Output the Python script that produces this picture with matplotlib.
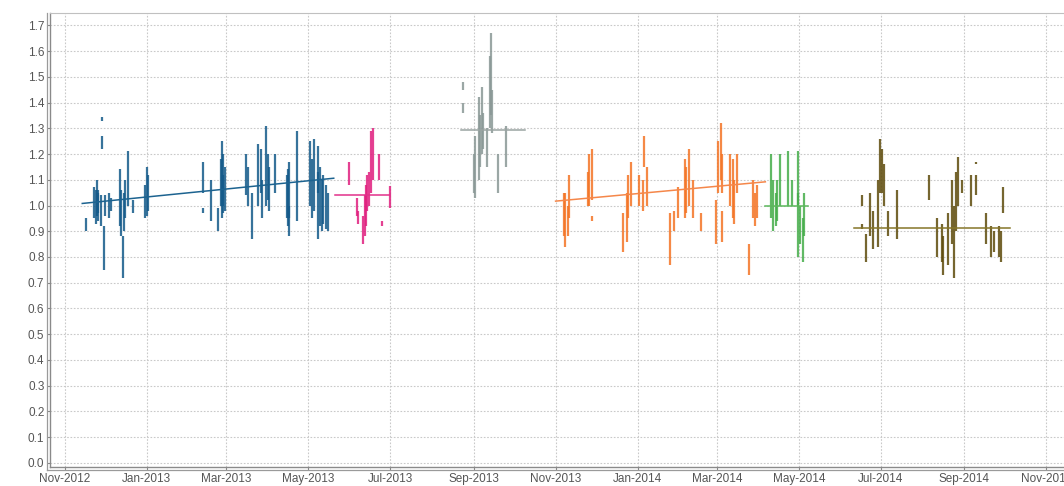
import matplotlib
matplotlib.use("Agg")
import matplotlib.pyplot as plt
import matplotlib.dates as mdates
import matplotlib.transforms as mtrans
from matplotlib.lines import Line2D
import pandas as pd

# ---- daily value ranges, one list per period ----
blue_dates = ["2012-11-17", "2012-11-23", "2012-11-24", "2012-11-25", "2012-11-26", "2012-11-26",
              "2012-11-28", "2012-11-29", "2012-11-29", "2012-11-30", "2012-12-01", "2012-12-04",
              "2012-12-05", "2012-12-12", "2012-12-13", "2012-12-14", "2012-12-15", "2012-12-16",
              "2012-12-18", "2012-12-22", "2012-12-31", "2013-01-01", "2013-01-02", "2013-02-12",
              "2013-02-12", "2013-02-18", "2013-02-23", "2013-02-25", "2013-02-26", "2013-02-27",
              "2013-02-27", "2013-02-28", "2013-03-16", "2013-03-17", "2013-03-20", "2013-03-25",
              "2013-03-27", "2013-03-28", "2013-03-31", "2013-04-01", "2013-04-02", "2013-04-06",
              "2013-04-15", "2013-04-16", "2013-04-17", "2013-04-17", "2013-04-23", "2013-05-02",
              "2013-05-04", "2013-05-05", "2013-05-08", "2013-05-08", "2013-05-10", "2013-05-11",
              "2013-05-12", "2013-05-14", "2013-05-16"]
blue_low = [0.90, 0.95, 0.93, 0.96, 0.97, 0.94, 0.92, 1.33, 1.22, 0.75, 0.96, 0.95,
            0.98, 0.92, 0.88, 0.72, 0.90, 0.95, 1.00, 0.97, 0.95, 0.96, 0.98, 1.05,
            0.97, 0.94, 0.90, 1.00, 0.95, 0.97, 1.00, 0.98, 1.04, 1.00, 0.87, 1.00,
            1.05, 0.95, 1.00, 1.02, 0.98, 1.05, 0.95, 0.92, 0.95, 0.88, 0.94, 1.00,
            0.95, 0.98, 0.87, 1.05, 0.92, 0.90, 0.93, 0.91, 0.90]
blue_high = [0.95, 1.07, 1.06, 1.10, 1.06, 1.05, 1.04, 1.345, 1.27, 0.92, 1.04, 1.05,
             1.03, 1.14, 1.06, 0.88, 1.05, 1.10, 1.21, 1.02, 1.08, 1.15, 1.12, 1.17,
             0.99, 1.10, 0.99, 1.18, 1.25, 1.20, 1.12, 1.15, 1.20, 1.15, 1.05, 1.24,
             1.22, 1.10, 1.31, 1.20, 1.15, 1.20, 1.12, 1.14, 1.17, 1.00, 1.29, 1.25,
             1.18, 1.26, 1.13, 1.23, 1.15, 1.10, 1.12, 1.08, 1.05]
blue_trend_dates = ["2012-11-14", "2013-05-20"]
blue_trend = [1.008, 1.106]

pink_dates = ["2013-05-31", "2013-06-06", "2013-06-07", "2013-06-11", "2013-06-12", "2013-06-13",
              "2013-06-14", "2013-06-15", "2013-06-17", "2013-06-18", "2013-06-23", "2013-06-25",
              "2013-07-01"]
pink_low = [1.08, 0.96, 0.93, 0.85, 0.88, 0.92, 0.98, 1.00, 1.05, 1.10, 1.10, 0.92, 0.99]
pink_high = [1.17, 1.03, 0.98, 0.96, 1.04, 1.08, 1.12, 1.13, 1.29, 1.30, 1.20, 0.94, 1.075]
pink_trend_dates = ["2013-05-21", "2013-07-01"]
pink_trend = [1.04, 1.04]

gray_dates = ["2013-08-24", "2013-08-24", "2013-09-01", "2013-09-02", "2013-09-05", "2013-09-06",
              "2013-09-07", "2013-09-08", "2013-09-11", "2013-09-13", "2013-09-14", "2013-09-15",
              "2013-09-19", "2013-09-25"]
gray_low = [1.45, 1.36, 1.05, 1.03, 1.10, 1.15, 1.20, 1.22, 1.15, 1.30, 1.35, 1.28, 1.05, 1.15]
gray_high = [1.48, 1.40, 1.20, 1.27, 1.42, 1.35, 1.46, 1.36, 1.30, 1.58, 1.67, 1.45, 1.20, 1.31]
gray_trend_dates = ["2013-08-23", "2013-10-09"]
gray_trend = [1.295, 1.295]

orange_dates = ["2013-11-07", "2013-11-08", "2013-11-10", "2013-11-11", "2013-11-25", "2013-11-26",
                "2013-11-28", "2013-11-28", "2013-12-21", "2013-12-24", "2013-12-25", "2013-12-27",
                "2014-01-02", "2014-01-05", "2014-01-06", "2014-01-08", "2014-01-25", "2014-01-28",
                "2014-01-31", "2014-02-05", "2014-02-06", "2014-02-08", "2014-02-11", "2014-02-17",
                "2014-02-28", "2014-03-02", "2014-03-04", "2014-03-05", "2014-03-05", "2014-03-11",
                "2014-03-13", "2014-03-14", "2014-03-16", "2014-03-25", "2014-03-28", "2014-03-29",
                "2014-03-31"]
orange_low = [0.88, 0.84, 0.88, 0.95, 1.00, 1.00, 1.02, 0.94, 0.82, 0.86, 0.95, 1.00,
              1.00, 0.98, 1.15, 1.00, 0.77, 0.90, 0.95, 0.95, 0.97, 1.00, 0.95, 0.90,
              0.85, 1.05, 1.10, 1.05, 0.86, 1.00, 0.95, 0.93, 1.05, 0.73, 0.95, 0.92,
              0.95]
orange_high = [1.05, 1.05, 1.00, 1.12, 1.13, 1.20, 1.22, 0.96, 0.97, 1.05, 1.12, 1.17,
               1.12, 1.10, 1.27, 1.15, 0.97, 0.98, 1.07, 1.18, 1.15, 1.22, 1.10, 0.97,
               1.02, 1.25, 1.32, 1.20, 0.98, 1.20, 1.18, 1.10, 1.20, 0.85, 1.10, 1.05,
               1.08]
orange_trend_dates = ["2013-11-01", "2014-04-06"]
orange_trend = [1.017, 1.092]

green_dates = ["2014-04-10", "2014-04-12", "2014-04-14", "2014-04-15", "2014-04-17", "2014-04-23",
               "2014-04-26", "2014-04-30", "2014-04-30", "2014-05-02", "2014-05-04", "2014-05-05"]
green_low = [0.95, 0.90, 0.92, 0.94, 1.00, 1.00, 1.00, 1.00, 0.80, 0.85, 0.78, 0.88]
green_high = [1.20, 1.10, 1.05, 1.10, 1.20, 1.21, 1.10, 1.21, 1.05, 1.00, 0.95, 1.05]
green_trend_dates = ["2014-04-06", "2014-05-08"]
green_trend = [1.0, 1.0]

olive_dates = ["2014-06-17", "2014-06-17", "2014-06-20", "2014-06-23", "2014-06-25", "2014-06-29",
               "2014-06-30", "2014-07-02", "2014-07-03", "2014-07-06", "2014-07-13", "2014-08-06",
               "2014-08-12", "2014-08-15", "2014-08-16", "2014-08-20", "2014-08-23", "2014-08-24",
               "2014-08-26", "2014-08-27", "2014-08-30", "2014-09-06", "2014-09-10", "2014-09-10",
               "2014-09-17", "2014-09-21", "2014-09-23", "2014-09-27", "2014-09-28", "2014-09-30"]
olive_low = [1.00, 0.91, 0.78, 0.88, 0.83, 0.84, 1.05, 1.05, 1.00, 0.88, 0.87, 1.02,
             0.80, 0.78, 0.73, 0.77, 0.85, 0.72, 0.90, 1.00, 1.05, 1.00, 1.04, 1.16,
             0.85, 0.80, 0.82, 0.80, 0.78, 0.97]
olive_high = [1.04, 0.93, 0.89, 1.05, 0.98, 1.10, 1.26, 1.22, 1.16, 0.98, 1.06, 1.12,
              0.95, 0.93, 0.88, 0.97, 1.10, 1.00, 1.13, 1.19, 1.10, 1.12, 1.12, 1.17,
              0.97, 0.92, 0.90, 0.92, 0.90, 1.07]
olive_trend_dates = ["2014-06-11", "2014-10-05"]
olive_trend = [0.912, 0.912]

y_ticks = [round(0.1 * i, 1) for i in range(18)]

series = [
    (blue_dates, blue_low, blue_high, blue_trend_dates, blue_trend, "#145a8a", "#1c6390"),
    (pink_dates, pink_low, pink_high, pink_trend_dates, pink_trend, "#e0207f", "#e2308a"),
    (gray_dates, gray_low, gray_high, gray_trend_dates, gray_trend, "#8a9896", "#9aa4a2"),
    (orange_dates, orange_low, orange_high, orange_trend_dates, orange_trend, "#f47425", "#f5874a"),
    (green_dates, green_low, green_high, green_trend_dates, green_trend, "#45ad4a", "#5cb85c"),
    (olive_dates, olive_low, olive_high, olive_trend_dates, olive_trend, "#5e4b0c", "#857528"),
]

W, H = 1064, 486
fig = plt.figure(figsize=(W / 100, H / 100), dpi=100)
fig.patch.set_facecolor("white")
# the plot area runs a little past the right edge of the figure
ax = fig.add_axes([50 / W, 19 / H, 1030 / W, (467 - 13) / H])

for dts, lo, hi, tds, tv, col, tcol in series:
    x = pd.to_datetime(dts)
    ax.vlines(x, lo, hi, colors=col, linewidth=1.6, alpha=0.85, zorder=3)
    ax.plot(pd.to_datetime(tds), tv, color=tcol, linewidth=1.1, zorder=4)

ax.set_xlim(pd.Timestamp("2012-10-21"), pd.Timestamp("2014-11-26"))
ax.set_ylim(-0.016, 1.748)
ax.set_yticks(y_ticks)
ax.yaxis.set_major_formatter(matplotlib.ticker.FormatStrFormatter("%.1f"))
ax.xaxis.set_major_locator(mdates.MonthLocator(bymonth=[1, 3, 5, 7, 9, 11]))
ax.xaxis.set_major_formatter(mdates.DateFormatter("%b-%Y"))

ax.grid(True, color="#c9c9c9", linestyle=(0, (1.5, 1.5)), linewidth=0.8, zorder=0)
ax.set_axisbelow(True)
ax.tick_params(axis="both", labelsize=8.5, labelcolor="#555555", color="#888888",
               length=2, width=0.8, pad=2)
for lab in ax.get_xticklabels() + ax.get_yticklabels():
    lab.set_fontfamily("Liberation Sans")

ax.spines["top"].set_color("#c0c0c0")
ax.spines["right"].set_visible(False)
for side in ("left", "bottom"):
    ax.spines[side].set_color("#8a8a8a")
    ax.spines[side].set_linewidth(1.0)

# second, offset line for the doubled frame on the left and bottom
off_l = mtrans.offset_copy(ax.transAxes, fig=fig, x=-3, y=0, units="dots")
off_b = mtrans.offset_copy(ax.transAxes, fig=fig, x=0, y=-3, units="dots")
fig.add_artist(Line2D([0, 0], [-0.007, 1], transform=off_l, color="#9a9a9a", lw=0.9, clip_on=False))
fig.add_artist(Line2D([-0.003, 1], [0, 0], transform=off_b, color="#9a9a9a", lw=0.9, clip_on=False))

fig.savefig("out.png", dpi=100, facecolor="white")
